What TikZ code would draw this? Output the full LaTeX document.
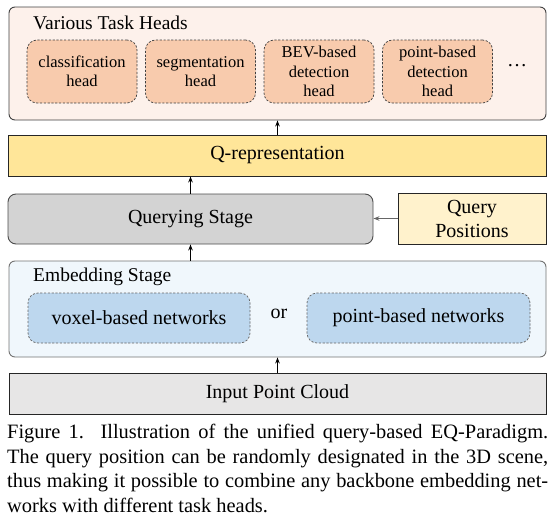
\documentclass[tikz,border=0pt]{standalone}
\usepackage{fontspec}
\setmainfont{Liberation Serif}
\newfontfamily\boxserif{Liberation Serif}
\usetikzlibrary{arrows.meta}
\definecolor{thfill}{HTML}{FDF1EB}
\definecolor{headfill}{HTML}{F8CBAD}
\definecolor{qrfill}{HTML}{FFE699}
\definecolor{qsfill}{HTML}{D3D3D3}
\definecolor{qpfill}{HTML}{FFF2CC}
\definecolor{embfill}{HTML}{F0F7FC}
\definecolor{netfill}{HTML}{BDD7EE}
\definecolor{inpfill}{HTML}{E7E6E6}
\tikzset{
  box/.style={draw=black!85, line width=0.9pt, inner sep=0pt, align=center,
    font=\boxserif\fontsize{20}{24}\selectfont},
  headbox/.style={draw=black!75, line width=0.7pt, dash pattern=on 2.2pt off 1.6pt,
    rounded corners=10pt, fill=headfill, minimum width=110pt, minimum height=63pt,
    inner sep=0pt, align=center, font=\boxserif\fontsize{16.5}{19.3}\selectfont},
  netbox/.style={draw=black!60, line width=0.7pt, dash pattern=on 2.2pt off 1.6pt,
    rounded corners=10pt, fill=netfill, minimum height=50pt,
    inner sep=0pt, align=center, font=\boxserif\fontsize{20}{24}\selectfont},
  titletext/.style={anchor=west, inner sep=0pt, font=\boxserif\fontsize{19.5}{23}\selectfont},
  plaintext/.style={inner sep=0pt, font=\boxserif\fontsize{20}{24}\selectfont},
  arr/.style={-{Stealth[length=6pt,width=4.5pt]}, line width=0.9pt},
}
\begin{document}
\begin{tikzpicture}[x=1pt,y=-1pt]
\useasboundingbox (0,0) rectangle (555,530);
% caption
\node[anchor=north west, inner sep=0pt, align=left, font=\boxserif\fontsize{20.4}{24.5}\selectfont] (cap) at (7,424) {%
\hbox to 541pt{Figure 1.\ \ Illustration of the unified query-based EQ-Paradigm.}\\
\hbox to 541pt{The query position can be randomly designated in the 3D scene,}\\
\hbox to 541pt{thus making it possible to combine any backbone embedding net-}\\
works with different task heads.};
% Task heads
\node[box, rounded corners=6pt, fill=thfill, draw=black!75, minimum width=537pt, minimum height=113pt] (th) at (277.5,63.5) {};
\node[titletext] (tht) at (33,23) {Various Task Heads};
\node[headbox] (h1) at (82,71.5) {classification\\head};
\node[headbox] (h2) at (200.5,71.5) {segmentation\\head};
\node[headbox] (h3) at (319,71.5) {BEV-based\\detection\\head};
\node[headbox] (h4) at (437.5,71.5) {point-based\\detection\\head};
\node[plaintext] (dots) at (517,66) {\dots};
% Q-representation
\node[box, align=left, fill=qrfill, minimum width=538pt, minimum height=41pt] (qr) at (277.5,155.5) {Q-representation};
% Querying stage
\node[box, rounded corners=8pt, fill=qsfill, draw=black!70, minimum width=365pt, minimum height=50pt] (qs) at (190.5,219) {Querying Stage};
\node[box, fill=qpfill, minimum width=148pt, minimum height=51pt] (qp) at (472,218.5) {Query\\Positions};
% Embedding stage
\node[box, rounded corners=6pt, fill=embfill, draw=black!55, minimum width=537pt, minimum height=96pt] (emb) at (277.5,309) {};
\node[titletext] (embt) at (33,277) {Embedding Stage};
\node[netbox, minimum width=222pt] (vox) at (139,318) {voxel-based networks};
\node[netbox, minimum width=223pt] (pnt) at (418.5,318) {point-based networks};
\node[plaintext] (or) at (279,314) {or};
% arrows
\draw[arr] (qr.north) -- (th.south);
\draw[arr] (qs.north) -- (qs.north |- qr.south);
\draw[arr, draw=black!60] (qp.west) -- (qp.west -| qs.east);
\draw[arr] (qs.south |- emb.north) -- (qs.south);
% Input
\node[box, fill=inpfill, minimum width=537pt, minimum height=41pt] (inp) at (277.5,393.5) {Input Point Cloud};
\draw[arr] (inp.north) -- (emb.south);
\end{tikzpicture}
\end{document}
